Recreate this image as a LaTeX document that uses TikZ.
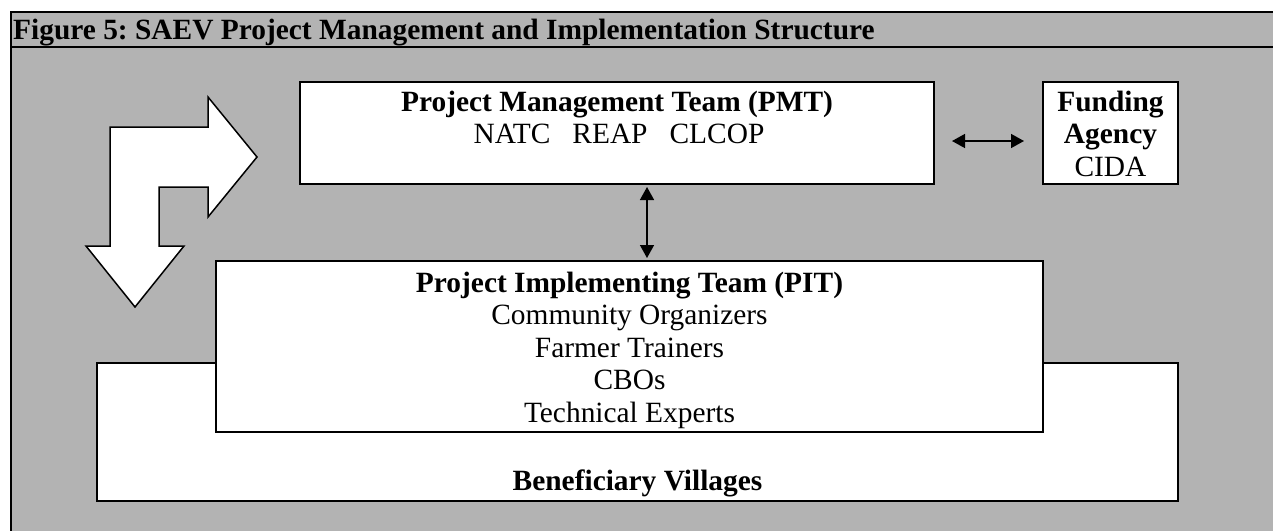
\documentclass[tikz,border=0pt]{standalone}
\usepackage{fontspec}
\setmainfont{Liberation Serif}
\usetikzlibrary{arrows.meta,calc}
\definecolor{panelgray}{RGB}{179,179,179}
\frenchspacing
\begin{document}
\begin{tikzpicture}[x=1pt,y=-1pt,
  box/.style={draw=black,line width=2pt,fill=white,inner sep=0pt,outer sep=0pt},
  txt/.style={anchor=base,inner sep=0pt,font=\fontsize{29.4}{33}\selectfont},
  btxt/.style={txt,font=\fontsize{29.4}{33}\selectfont\bfseries},
  dbl/.style={line width=1.5pt,{Triangle[length=13pt,width=14pt]}-{Triangle[length=13pt,width=14pt]}},
  rule/.style={line width=2pt},
  bigarrow/.style={draw=black,line width=1.5pt,fill=white,line join=miter}]
\useasboundingbox (0,0) rectangle (1273,531);

% panel with title row
\fill[white] (0,0) rectangle (1273,531);
\fill[panelgray] (11,12) rectangle (1273,531);
\draw[rule] (10,12) -- (1273,12);
\draw[rule] (10,46.5) -- (1273,46.5);
\draw[rule] (11,11) -- (11,531);
\node[btxt,anchor=base west] (title) at (13,39) {Figure 5: SAEV Project Management and Implementation Structure};

% bent two-way block arrow
\draw[bigarrow] (110,127) -- (208,127) -- (208,97) -- (257,157) -- (208,217) -- (208,187)
  -- (159,187) -- (159,246) -- (184,246) -- (135,307) -- (86,246) -- (110,246) -- cycle;

% boxes
\node[box,minimum width=1081pt,minimum height=138pt] (ben) at (637.5,432) {};
\node[box,minimum width=827pt,minimum height=171pt] (pit) at (629.5,346.5) {};
\node[box,minimum width=634pt,minimum height=102pt] (pmt) at (617,133) {};
\node[box,minimum width=135pt,minimum height=102pt] (fund) at (1110.5,133) {};

% texts
\node[btxt] (pmtA) at (617,111) {Project Management Team (PMT)};
\node[txt]  (pmtB) at (619,143) {NATC\ \ \ REAP\ \ \ CLCOP};

\node[btxt] (fundA) at (1110.5,111) {Funding};
\node[btxt] (fundB) at (1110.5,143) {Agency};
\node[txt]  (fundC) at (1110.5,176) {CIDA};

\node[btxt] (pitA) at (629.5,292) {Project Implementing Team (PIT)};
\node[txt]  (pitB) at (629.5,324.5) {Community Organizers};
\node[txt]  (pitC) at (629.5,357) {Farmer Trainers};
\node[txt]  (pitD) at (629.5,389.5) {CBOs};
\node[txt]  (pitE) at (629.5,422) {Technical Experts};

\node[btxt] (benA) at (637.5,490) {Beneficiary Villages};

% connectors
\draw[dbl,shorten <=18pt,shorten >=19pt] ([yshift=-8pt]pmt.east) -- ([yshift=-8pt]fund.west);
\draw[dbl,shorten <=3pt,shorten >=3pt] ([xshift=30pt]pmt.south) -- ([xshift=30pt]pmt.south |- pit.north);
\end{tikzpicture}
\end{document}
